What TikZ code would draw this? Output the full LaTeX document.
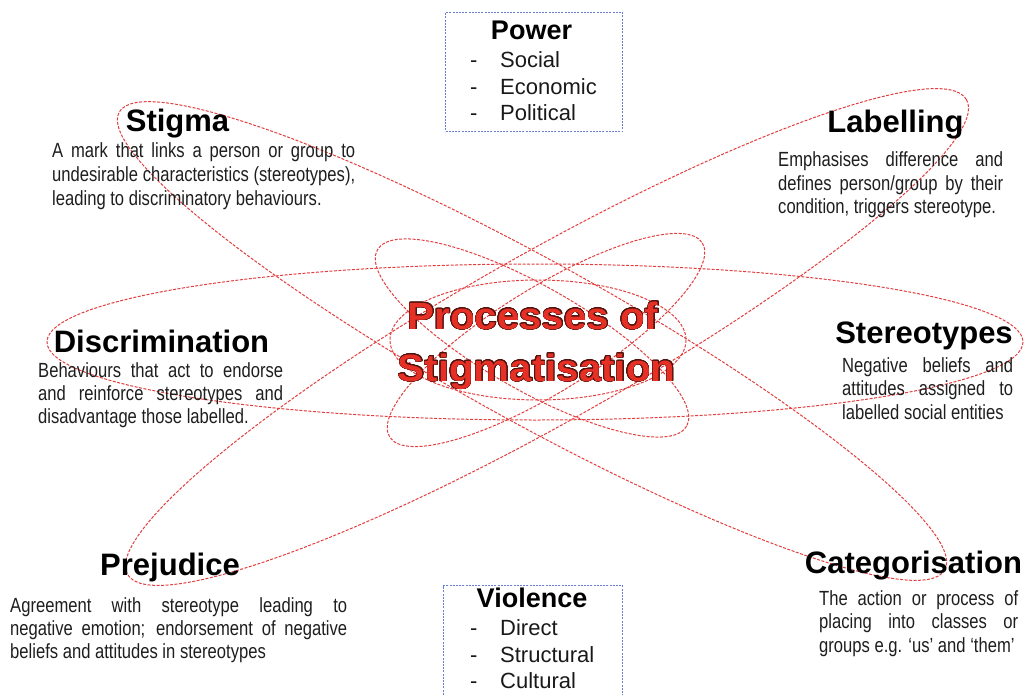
\documentclass[tikz,border=0pt]{standalone}
\usepackage{fontspec}
\setmainfont{Liberation Sans}
\newfontfamily\bodyfamily{Liberation Sans}[FakeStretch=0.81]
\newfontfamily\titlefamily{Liberation Sans}[FakeStretch=1.06]
\usepackage[copies]{contour}
\contourlength{0.6pt}
\contournumber{24}

\definecolor{ellred}{RGB}{226,62,62}
\definecolor{boxblue}{RGB}{105,125,210}
\definecolor{bodygray}{RGB}{30,30,30}
\definecolor{titlered}{RGB}{230,48,38}
\definecolor{titleedge}{RGB}{80,20,14}

% stretch a line of words to a given width
\newcommand\fullline[2]{\makebox[#1][s]{#2}}

\tikzset{
  orbit/.style={draw=ellred, line width=1pt, dash pattern=on 3pt off 1.5pt},
  infobox/.style={draw=boxblue, line width=1.2pt, dash pattern=on 2pt off 1.2pt,
    inner sep=0pt, anchor=north west},
  headtext/.style={anchor=base, inner sep=0pt, text=black,
    font=\fontsize{31}{36}\selectfont\bfseries},
  bodyline/.style={anchor=base west, inner sep=0pt, text=bodygray,
    font=\bodyfamily\fontsize{20.5}{24}\selectfont},
  boxhead/.style={anchor=base, inner sep=0pt, text=black,
    font=\fontsize{27}{31}\selectfont\bfseries},
  boxitem/.style={anchor=base west, inner sep=0pt, text=black!90,
    font=\fontsize{22}{25}\selectfont},
  titletext/.style={anchor=base, inner sep=0pt,
    font=\titlefamily\fontsize{38}{44}\selectfont\bfseries}
}

\begin{document}
\begin{tikzpicture}[x=1pt, y=-1pt]
\useasboundingbox (0,0) rectangle (1024,695);
\clip (0,0) rectangle (1024,695);

% orbits
\draw[orbit, rotate around={-29:(532,341)}] (532,341) ellipse [x radius=472, y radius=80];
\draw[orbit, rotate around={29.5:(547,337)}] (547,337) ellipse [x radius=482, y radius=84];
\draw[orbit] (535,342) ellipse [x radius=488, y radius=78];
\draw[orbit, rotate around={-29.7:(532,338)}] (532,338) ellipse [x radius=178, y radius=52];
\draw[orbit, rotate around={31.8:(546,340)}] (546,340) ellipse [x radius=184, y radius=52];
\draw[orbit] (538,340) ellipse [x radius=148, y radius=60];

% power box
\node[infobox, minimum width=177pt, minimum height=119pt] (powerbox) at (445,12) {};
\node[boxhead] (powerhead) at (531.5,40) {Power};
\node[boxitem] (pd1) at (470,68) {-};
\node[boxitem] (pi1) at (500,68) {Social};
\node[boxitem] (pd2) at (470,95) {-};
\node[boxitem] (pi2) at (500,95) {Economic};
\node[boxitem] (pd3) at (470,121) {-};
\node[boxitem] (pi3) at (500,121) {Political};

% violence box
\node[infobox, minimum width=179pt, minimum height=130pt] (violencebox) at (443,585) {};
\node[boxhead] (violencehead) at (532,607) {Violence};
\node[boxitem] (vd1) at (470,635) {-};
\node[boxitem] (vi1) at (500,635) {Direct};
\node[boxitem] (vd2) at (470,662) {-};
\node[boxitem] (vi2) at (500,662) {Structural};
\node[boxitem] (vd3) at (470,688) {-};
\node[boxitem] (vi3) at (500,688) {Cultural};

% stigma
\node[headtext] (stigmahead) at (177.5,132) {Stigma};
\node[bodyline] (stigma1) at (52,158) {\fullline{303pt}{A mark that links a person or group to}};
\node[bodyline] (stigma2) at (52,182) {\fullline{303pt}{undesirable characteristics (stereotypes),}};
\node[bodyline] (stigma3) at (52,205) {leading to discriminatory behaviours.};

% labelling
\node[headtext] (labelhead) at (895.5,133) {Labelling};
\node[bodyline] (label1) at (778,167) {\fullline{225pt}{Emphasises difference and}};
\node[bodyline] (label2) at (778,190) {\fullline{225pt}{defines person/group by their}};
\node[bodyline] (label3) at (778,213) {condition, triggers stereotype.};

% discrimination
\node[headtext] (discrhead) at (161.5,352) {Discrimination};
\node[bodyline] (discr1) at (38,377) {\fullline{245pt}{Behaviours that act to endorse}};
\node[bodyline] (discr2) at (38,400) {\fullline{245pt}{and reinforce stereotypes and}};
\node[bodyline] (discr3) at (38,423) {disadvantage those labelled.};

% stereotypes
\node[headtext] (stereohead) at (924,343) {Stereotypes};
\node[bodyline] (stereo1) at (842,372) {\fullline{171pt}{Negative beliefs and}};
\node[bodyline] (stereo2) at (842,395) {\fullline{171pt}{attitudes assigned to}};
\node[bodyline] (stereo3) at (842,419) {labelled social entities};

% prejudice
\node[headtext] (prejhead) at (170,575) {Prejudice};
\node[bodyline] (prej1) at (10,612) {\fullline{337pt}{Agreement with stereotype leading to}};
\node[bodyline] (prej2) at (10,635) {\fullline{337pt}{negative emotion; endorsement of negative}};
\node[bodyline] (prej3) at (10,658) {beliefs and attitudes in stereotypes};

% categorisation
\node[headtext] (cathead) at (913.5,573) {Categorisation};
\node[bodyline] (cat1) at (819,605) {\fullline{199pt}{The action or process of}};
\node[bodyline] (cat2) at (819,628) {\fullline{199pt}{placing into classes or}};
\node[bodyline] (cat3) at (819,652) {groups e.g. ‘us’ and ‘them’};

% central title
\node[titletext] (title1) at (533,329) {\contour{titleedge}{\textcolor{titlered}{Processes of}}};
\node[titletext] (title2) at (536.5,381) {\contour{titleedge}{\textcolor{titlered}{Stigmatisation}}};
\end{tikzpicture}
\end{document}
